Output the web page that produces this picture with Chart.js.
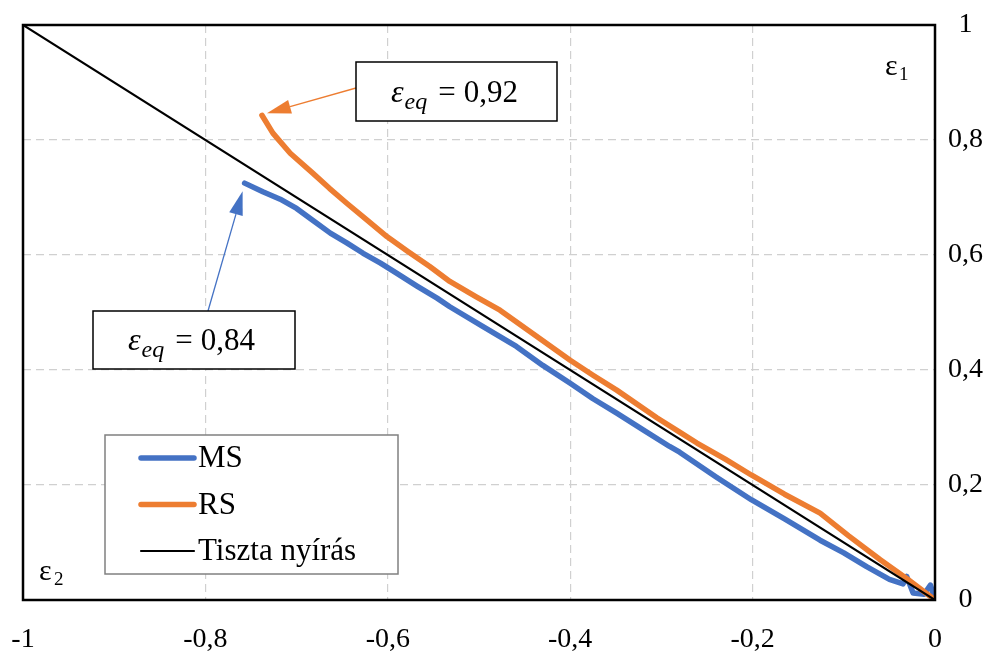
<!DOCTYPE html>
<html>
<head>
<meta charset="utf-8">
<script src="https://cdn.jsdelivr.net/npm/chart.js@4/dist/chart.umd.min.js"></script>
<style>
  html, body { margin: 0; padding: 0; background: #fff; }
</style>
</head>
<body>
<canvas id="chart" width="1003" height="651"></canvas>
<script>
// MS curve (eps2, eps1)
const msX = [-0.757, -0.737, -0.718, -0.700, -0.682, -0.663, -0.645, -0.627, -0.608, -0.590, -0.568, -0.546, -0.532,
  -0.496, -0.459, -0.430, -0.400, -0.375, -0.349, -0.320, -0.291, -0.280, -0.240, -0.201, -0.165, -0.126,
  -0.100, -0.075, -0.050, -0.035, -0.031, -0.024, -0.012, -0.005, 0];
const msY = [0.725, 0.710, 0.697, 0.681, 0.660, 0.638, 0.621, 0.603, 0.586, 0.568, 0.546, 0.525, 0.510,
  0.476, 0.441, 0.408, 0.377, 0.350, 0.325, 0.296, 0.267, 0.257, 0.214, 0.174, 0.141, 0.104,
  0.082, 0.058, 0.036, 0.028, 0.041, 0.012, 0.010, 0.026, 0];

// RS curve
const rsX = [-0.738, -0.726, -0.707, -0.682, -0.664, -0.645, -0.623, -0.601, -0.578, -0.554, -0.532, -0.503,
  -0.477, -0.440, -0.400, -0.375, -0.349, -0.305, -0.280, -0.261, -0.230, -0.201, -0.165, -0.126, -0.095,
  -0.060, -0.030, -0.005, 0];
const rsY = [0.843, 0.812, 0.777, 0.742, 0.716, 0.690, 0.661, 0.632, 0.606, 0.580, 0.554, 0.527,
  0.504, 0.462, 0.417, 0.391, 0.365, 0.317, 0.292, 0.273, 0.245, 0.217, 0.184, 0.151, 0.112,
  0.070, 0.036, 0.006, 0];

// Tiszta nyírás (pure shear)
const shearX = [-1, 0];
const shearY = [1, 0];

const xTicks = [-1, -0.8, -0.6, -0.4, -0.2, 0];
const yTicks = [0, 0.2, 0.4, 0.6, 0.8, 1];
const seriesNames = ['MS', 'RS', 'Tiszta nyírás'];
const seriesColors = ['#4472C4', '#ED7D31', '#000000'];
const eqValues = ['0,84', '0,92'];

const toPts = (xs, ys) => xs.map((x, i) => ({ x: x, y: ys[i] }));
const fmt = v => String(+v.toFixed(1)).replace('.', ',');
const serif = "'Liberation Serif', 'Times New Roman', serif";

function drawArrow(ctx, x1, y1, x2, y2, color) {
    const a = Math.atan2(y2 - y1, x2 - x1);
    const len = 24, half = 7;
    const bx = x2 - len * Math.cos(a), by = y2 - len * Math.sin(a);
    ctx.strokeStyle = color;
    ctx.fillStyle = color;
    ctx.lineWidth = 1.3;
    ctx.beginPath();
    ctx.moveTo(x1, y1);
    ctx.lineTo(bx, by);
    ctx.stroke();
    ctx.beginPath();
    ctx.moveTo(x2, y2);
    ctx.lineTo(bx + half * Math.sin(a), by - half * Math.cos(a));
    ctx.lineTo(bx - half * Math.sin(a), by + half * Math.cos(a));
    ctx.closePath();
    ctx.fill();
}

function drawEqBox(ctx, x, y, w, h, value) {
    ctx.fillStyle = '#fff';
    ctx.fillRect(x, y, w, h);
    ctx.strokeStyle = '#000';
    ctx.lineWidth = 1.5;
    ctx.strokeRect(x, y, w, h);
    const base = y + h / 2 + 10;
    let cx = x + 35;
    ctx.fillStyle = '#000';
    ctx.textBaseline = 'alphabetic';
    ctx.textAlign = 'left';
    ctx.font = 'italic 32px ' + serif;
    ctx.fillText('ε', cx, base);
    cx += ctx.measureText('ε').width + 1;
    ctx.font = 'italic 24px ' + serif;
    ctx.fillText('eq', cx, base + 7);
    cx += ctx.measureText('eq').width + 11;
    ctx.font = '31px ' + serif;
    ctx.fillText('=', cx, base);
    cx += ctx.measureText('=').width + 8;
    ctx.fillText(value, cx, base);
}

const decor = {
    id: 'decor',
    afterDraw(chart) {
        const ctx = chart.ctx;
        const a = chart.chartArea;
        const xs = chart.scales.x, ys = chart.scales.y;
        ctx.save();

        // frame
        ctx.strokeStyle = '#000';
        ctx.lineWidth = 2.5;
        ctx.strokeRect(a.left, a.top, a.right - a.left, a.bottom - a.top);

        // axis names inside the frame
        ctx.fillStyle = '#000';
        ctx.textBaseline = 'alphabetic';
        ctx.textAlign = 'left';
        ctx.font = '30px ' + serif;
        ctx.fillText('ε', a.right - 50, a.top + 50);
        ctx.fillText('ε', a.left + 16, a.bottom - 20);
        ctx.font = '19px ' + serif;
        ctx.fillText('1', a.right - 36, a.top + 55);
        ctx.fillText('2', a.left + 31, a.bottom - 15);

        // legend, in series order
        const lx = 105, ly = 435, lw = 293, lh = 139;
        ctx.fillStyle = '#fff';
        ctx.fillRect(lx, ly, lw, lh);
        ctx.strokeStyle = '#808080';
        ctx.lineWidth = 1.5;
        ctx.strokeRect(lx, ly, lw, lh);
        seriesNames.forEach((name, i) => {
            const ds = chart.data.datasets.find(d => d.label === name);
            const yy = ly + 23 + i * 46.5;
            ctx.strokeStyle = ds.borderColor;
            ctx.lineWidth = ds.borderWidth;
            ctx.lineCap = 'round';
            ctx.beginPath();
            ctx.moveTo(141, yy);
            ctx.lineTo(194, yy);
            ctx.stroke();
            ctx.fillStyle = '#000';
            ctx.font = '31px ' + serif;
            ctx.textBaseline = 'middle';
            ctx.fillText(name, 198, yy + 1);
        });
        ctx.lineCap = 'butt';

        // annotation boxes + arrows pointing at curve starts
        const rsTipX = xs.getPixelForValue(rsX[0]) + 5, rsTipY = ys.getPixelForValue(rsY[0]) - 2;
        const msTipX = xs.getPixelForValue(msX[0]) - 2, msTipY = ys.getPixelForValue(msY[0]) + 8;
        drawArrow(ctx, 356, 88, rsTipX, rsTipY, seriesColors[1]);
        drawArrow(ctx, 208, 311, msTipX, msTipY, seriesColors[0]);
        drawEqBox(ctx, 356, 62, 201, 59, eqValues[1]);
        drawEqBox(ctx, 93, 311, 202, 58, eqValues[0]);

        ctx.restore();
    }
};

new Chart(document.getElementById('chart'), {
    type: 'scatter',
    data: {
        datasets: [
            { label: seriesNames[2], data: toPts(shearX, shearY), borderColor: seriesColors[2], borderWidth: 2.2, order: 0 },
            { label: seriesNames[1], data: toPts(rsX, rsY), borderColor: seriesColors[1], borderWidth: 5.5, order: 1 },
            { label: seriesNames[0], data: toPts(msX, msY), borderColor: seriesColors[0], borderWidth: 5.5, order: 2 }
        ].map(ds => Object.assign(ds, {
            showLine: true, pointRadius: 0, pointHoverRadius: 0, tension: 0,
            borderCapStyle: 'round', borderJoinStyle: 'round', backgroundColor: ds.borderColor
        }))
    },
    options: {
        responsive: false,
        animation: false,
        devicePixelRatio: 1,
        layout: { padding: { left: 23, top: 25, right: 0, bottom: 0 } },
        plugins: { legend: { display: false }, tooltip: { enabled: false } },
        scales: {
            x: {
                type: 'linear', position: 'bottom', min: -1, max: 0,
                afterBuildTicks: s => { s.ticks = xTicks.map(v => ({ value: v })); },
                afterFit: s => { s.height = 51; s.paddingLeft = 0; s.paddingRight = 0; },
                grid: { color: '#d0d0d0', lineWidth: 1.2, drawTicks: false },
                border: { display: false, dash: [8, 5] },
                ticks: { callback: fmt, color: '#000', padding: 23, maxRotation: 0, font: { family: serif, size: 28 } }
            },
            y: {
                type: 'linear', position: 'right', min: 0, max: 1,
                afterBuildTicks: s => { s.ticks = yTicks.map(v => ({ value: v })); },
                afterFit: s => { s.width = 68; s.paddingTop = 0; s.paddingBottom = 0; },
                grid: { color: '#d0d0d0', lineWidth: 1.2, drawTicks: false },
                border: { display: false, dash: [8, 5] },
                ticks: { callback: fmt, color: '#000', padding: 13, crossAlign: 'center', font: { family: serif, size: 28 } }
            }
        }
    },
    plugins: [decor]
});
</script>
</body>
</html>
